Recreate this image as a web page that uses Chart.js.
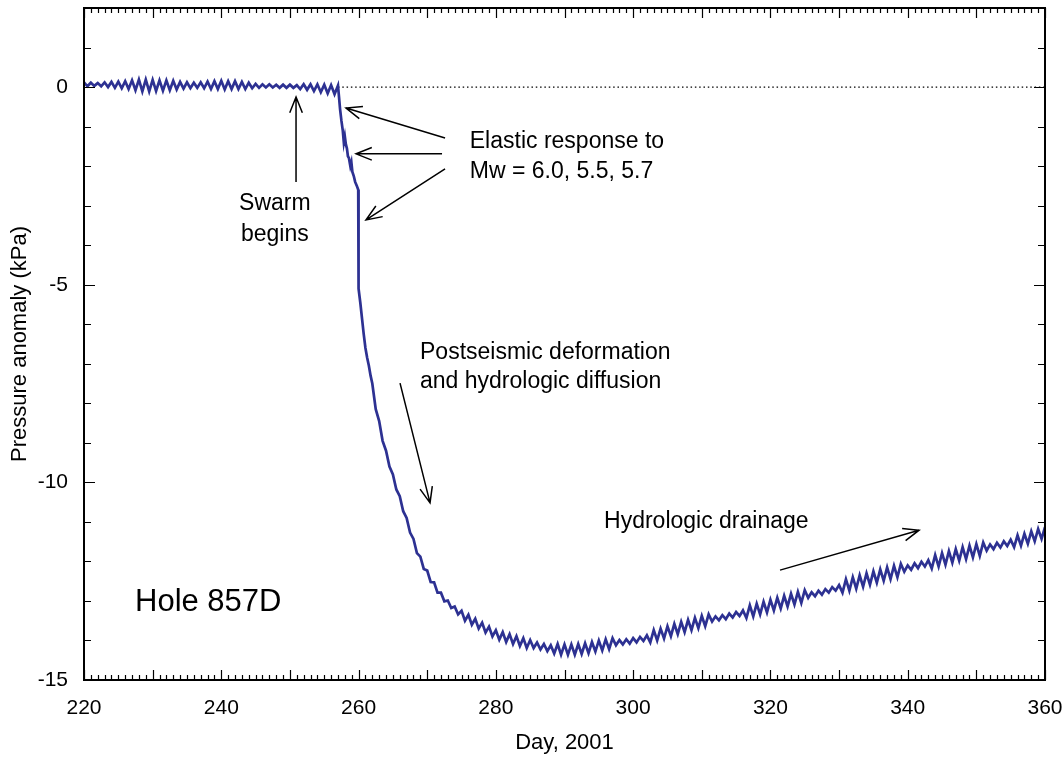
<!DOCTYPE html>
<html>
<head>
<meta charset="utf-8">
<script src="https://cdn.jsdelivr.net/npm/chart.js@4.4.1/dist/chart.umd.min.js"></script>
<style>
html,body{margin:0;padding:0;background:#fff;}
#wrap{width:1062px;height:759px;}
</style>
</head>
<body>
<div id="wrap"><canvas id="c" width="1062" height="759"></canvas></div>
<script>
// ---- data ----
const days = [
220,220.5,221,221.5,222,222.5,223,223.5,224,224.5,225,225.5,226,226.5,227,227.5,228,228.5,229,229.5,
230,230.5,231,231.5,232,232.5,233,233.5,234,234.5,235,235.5,236,236.5,237,237.5,238,238.5,239,239.5,
240,240.5,241,241.5,242,242.5,243,243.5,244,244.5,245,245.5,246,246.5,247,247.5,248,248.5,249,249.5,
250,250.5,251,251.5,252,252.5,253,253.5,254,254.5,255,255.5,256,256.5,257,
257.15,257.3,257.5,257.7,257.85,258,258.15,258.3,258.45,258.6,258.8,258.95,259.1,259.3,259.5,259.75,259.95,
260,260.25,260.5,260.75,261,261.25,261.5,261.75,
262,262.5,263,263.5,264,264.5,265,265.5,266,266.5,267,267.5,268,268.5,269,269.5,
270,270.5,271,271.5,272,272.5,273,273.5,274,274.5,275,275.5,276,276.5,277,277.5,278,278.5,279,279.5,
280,280.5,281,281.5,282,282.5,283,283.5,284,284.5,285,285.5,286,286.5,287,287.5,288,288.5,289,289.5,
290,290.5,291,291.5,292,292.5,293,293.5,294,294.5,295,295.5,296,296.5,297,297.5,298,298.5,299,299.5,
300,300.5,301,301.5,302,302.5,303,303.5,304,304.5,305,305.5,306,306.5,307,307.5,308,308.5,309,309.5,
310,310.5,311,311.5,312,312.5,313,313.5,314,314.5,315,315.5,316,316.5,317,317.5,318,318.5,319,319.5,
320,320.5,321,321.5,322,322.5,323,323.5,324,324.5,325,325.5,326,326.5,327,327.5,328,328.5,329,329.5,
330,330.5,331,331.5,332,332.5,333,333.5,334,334.5,335,335.5,336,336.5,337,337.5,338,338.5,339,339.5,
340,340.5,341,341.5,342,342.5,343,343.5,344,344.5,345,345.5,346,346.5,347,347.5,348,348.5,349,349.5,
350,350.5,351,351.5,352,352.5,353,353.5,354,354.5,355,355.5,356,356.5,357,357.5,358,358.5,359,359.5,
360
];
const pressure = [
0.12,0.02,0.11,0.03,0.10,0.02,0.12,0.00,0.13,-0.02,0.14,-0.03,0.15,-0.05,0.17,-0.08,0.19,-0.11,0.19,-0.11,
0.18,-0.10,0.17,-0.09,0.17,-0.08,0.16,-0.06,0.13,-0.04,0.12,-0.03,0.11,-0.02,0.12,-0.03,0.14,-0.05,0.15,-0.05,
0.16,-0.06,0.15,-0.05,0.15,-0.05,0.13,-0.05,0.11,-0.03,0.08,-0.02,0.07,-0.01,0.07,-0.01,0.06,-0.02,0.06,-0.02,
0.06,-0.02,0.05,-0.05,0.07,-0.07,0.07,-0.10,0.07,-0.13,0.06,-0.16,0.05,-0.18,0.04,
-0.25,-0.55,-0.85,-1.10,-1.40,-1.25,-1.45,-1.55,-1.75,-1.80,-2.00,-1.90,-2.15,-2.25,-2.40,-2.50,-2.60,
-5.10,-5.45,-5.85,-6.25,-6.60,-6.85,-7.05,-7.30,
-7.50,-8.15,-8.45,-8.95,-9.20,-9.60,-9.80,-10.18,-10.35,-10.73,-10.90,-11.27,-11.43,-11.79,-11.88,-12.19,
-12.23,-12.52,-12.53,-12.79,-12.79,-13.01,-12.99,-13.18,-13.14,-13.34,-13.25,-13.50,-13.35,-13.60,-13.45,-13.70,-13.55,-13.80,-13.65,-13.90,
-13.74,-13.98,-13.79,-14.04,-13.84,-14.09,-13.89,-14.14,-13.94,-14.19,-13.99,-14.19,-14.05,-14.23,-14.09,-14.27,-14.12,-14.33,-14.09,-14.36,
-14.10,-14.36,-14.10,-14.36,-14.09,-14.34,-14.07,-14.32,-14.04,-14.28,-14.00,-14.25,-13.97,-14.22,-13.94,-14.12,-13.99,-14.10,-13.97,-14.08,
-13.94,-14.05,-13.91,-14.01,-13.87,-14.05,-13.74,-14.00,-13.70,-13.95,-13.64,-13.89,-13.58,-13.84,-13.53,-13.79,-13.48,-13.74,-13.43,-13.69,
-13.38,-13.64,-13.34,-13.52,-13.39,-13.49,-13.36,-13.46,-13.32,-13.42,-13.28,-13.38,-13.24,-13.43,-13.11,-13.39,-13.07,-13.34,-13.02,-13.29,
-12.97,-13.24,-12.92,-13.19,-12.87,-13.14,-12.82,-13.09,-12.77,-13.05,-12.73,-12.92,-12.78,-12.88,-12.74,-12.84,-12.70,-12.79,-12.65,-12.74,
-12.60,-12.79,-12.45,-12.74,-12.40,-12.69,-12.35,-12.64,-12.30,-12.59,-12.25,-12.54,-12.20,-12.49,-12.15,-12.45,-12.11,-12.40,-12.06,-12.26,
-12.10,-12.21,-12.05,-12.17,-12.01,-12.13,-11.97,-12.18,-11.84,-12.13,-11.79,-12.08,-11.74,-12.03,-11.69,-11.98,-11.64,-11.94,-11.60,-11.90,
-11.56,-11.86,-11.52,-11.73,-11.57,-11.69,-11.53,-11.65,-11.49,-11.61,-11.45,-11.64,-11.34,-11.60,-11.30,-11.55,-11.24,-11.49,-11.18,-11.43,
-11.13
];
const zeroLineDays = [257, 360];
const zeroLineValues = [0, 0];
const xTickLabels = [220, 240, 260, 280, 300, 320, 340, 360];
const yTickLabels = [0, -5, -10, -15];

// annotations (positions in data units)
const notes = [
  {text: 'Elastic response to', x: 276.2, y: -1.37, align: 'left', size: 23},
  {text: 'Mw = 6.0, 5.5, 5.7', x: 276.2, y: -2.15, align: 'left', size: 23},
  {text: 'Swarm', x: 247.8, y: -2.96, align: 'center', size: 23},
  {text: 'begins', x: 247.8, y: -3.74, align: 'center', size: 23},
  {text: 'Postseismic deformation', x: 268.95, y: -6.73, align: 'left', size: 23},
  {text: 'and hydrologic diffusion', x: 268.95, y: -7.46, align: 'left', size: 23},
  {text: 'Hydrologic drainage', x: 295.76, y: -11.0, align: 'left', size: 23},
  {text: 'Hole 857D', x: 227.43, y: -13.05, align: 'left', size: 31}
];
const arrows = [
  {from: [272.6, -1.29], to: [258.17, -0.53]},
  {from: [272.16, -1.69], to: [259.63, -1.69]},
  {from: [272.6, -2.07], to: [261.08, -3.36]},
  {from: [250.89, -2.4], to: [250.89, -0.25]},
  {from: [266.04, -7.49], to: [270.41, -10.52]},
  {from: [321.4, -12.22], to: [341.65, -11.21]}
];

const FONT = '"Liberation Sans", Arial, Helvetica, sans-serif';

const decor = {
  id: 'decor',
  afterDraw(chart) {
    const {ctx, chartArea: a, scales: {x, y}} = chart;
    ctx.save();
    ctx.strokeStyle = '#000';
    ctx.lineWidth = 1.2;
    ctx.beginPath();
    x.ticks.forEach(t => {
      const px = Math.round(x.getPixelForValue(t.value)) + 0.5;
      const L = (t.value % 10 === 0) ? 10 : 5;
      ctx.moveTo(px, a.bottom); ctx.lineTo(px, a.bottom - L);
      ctx.moveTo(px, a.top); ctx.lineTo(px, a.top + L);
    });
    y.ticks.forEach(t => {
      const py = Math.round(y.getPixelForValue(t.value)) + 0.5;
      const L = (t.value % 5 === 0) ? 11 : 7;
      ctx.moveTo(a.left, py); ctx.lineTo(a.left + L, py);
      ctx.moveTo(a.right, py); ctx.lineTo(a.right - L, py);
    });
    ctx.stroke();
    ctx.lineWidth = 2;
    ctx.strokeRect(a.left, a.top, a.right - a.left, a.bottom - a.top);

    // arrows
    ctx.lineWidth = 1.5;
    arrows.forEach(ar => {
      const x1 = x.getPixelForValue(ar.from[0]), y1 = y.getPixelForValue(ar.from[1]);
      const x2 = x.getPixelForValue(ar.to[0]), y2 = y.getPixelForValue(ar.to[1]);
      const ang = Math.atan2(y2 - y1, x2 - x1);
      const hl = 17, ha = 0.38;
      ctx.beginPath();
      ctx.moveTo(x1, y1); ctx.lineTo(x2, y2);
      ctx.moveTo(x2 - hl * Math.cos(ang - ha), y2 - hl * Math.sin(ang - ha));
      ctx.lineTo(x2, y2);
      ctx.lineTo(x2 - hl * Math.cos(ang + ha), y2 - hl * Math.sin(ang + ha));
      ctx.stroke();
    });

    // text
    ctx.fillStyle = '#000';
    ctx.textBaseline = 'middle';
    notes.forEach(n => {
      ctx.font = n.size + 'px ' + FONT;
      ctx.textAlign = n.align;
      ctx.fillText(n.text, x.getPixelForValue(n.x), y.getPixelForValue(n.y));
    });
    ctx.restore();
  }
};

const mainData = days.map((d, i) => ({x: d, y: pressure[i]}));
const zeroData = zeroLineDays.map((d, i) => ({x: d, y: zeroLineValues[i]}));

function noEdgePadding(s) {
  s.paddingLeft = 0; s.paddingRight = 0; s.paddingTop = 0; s.paddingBottom = 0;
}

new Chart(document.getElementById('c'), {
  type: 'scatter',
  data: {
    datasets: [
      {
        data: zeroData, showLine: true, pointRadius: 0,
        borderColor: '#000', borderWidth: 1.2, borderDash: [1.5, 2.8], order: 2
      },
      {
        data: mainData, showLine: true, pointRadius: 0, tension: 0,
        borderColor: '#2d3192', borderWidth: 2.7, order: 1
      }
    ]
  },
  options: {
    responsive: false,
    animation: false,
    devicePixelRatio: 1,
    layout: {padding: {left: 0, right: 17, top: 8, bottom: 0}},
    plugins: {legend: {display: false}, tooltip: {enabled: false}},
    scales: {
      x: {
        type: 'linear', min: 220, max: 360,
        grid: {display: false, drawTicks: false},
        border: {display: false},
        ticks: {
          stepSize: 1, autoSkip: false, maxRotation: 0, padding: 16,
          color: '#000', font: {family: FONT, size: 21},
          callback: v => xTickLabels.includes(v) ? String(v) : ''
        },
        title: {display: true, text: 'Day, 2001', color: '#000',
                font: {family: FONT, size: 22}, padding: {top: 0, bottom: 3}},
        afterFit: s => { s.height = 79; noEdgePadding(s); }
      },
      y: {
        type: 'linear', min: -15, max: 2,
        grid: {display: false, drawTicks: false},
        border: {display: false},
        ticks: {
          stepSize: 1, autoSkip: false, padding: 16,
          color: '#000', font: {family: FONT, size: 21},
          callback: v => yTickLabels.includes(v) ? String(v) : ''
        },
        title: {display: true, text: 'Pressure anomaly (kPa)', color: '#000',
                font: {family: FONT, size: 22}, padding: {top: 7, bottom: 0}},
        afterFit: s => { s.width = 84; noEdgePadding(s); }
      }
    }
  },
  plugins: [decor]
});
</script>
</body>
</html>
